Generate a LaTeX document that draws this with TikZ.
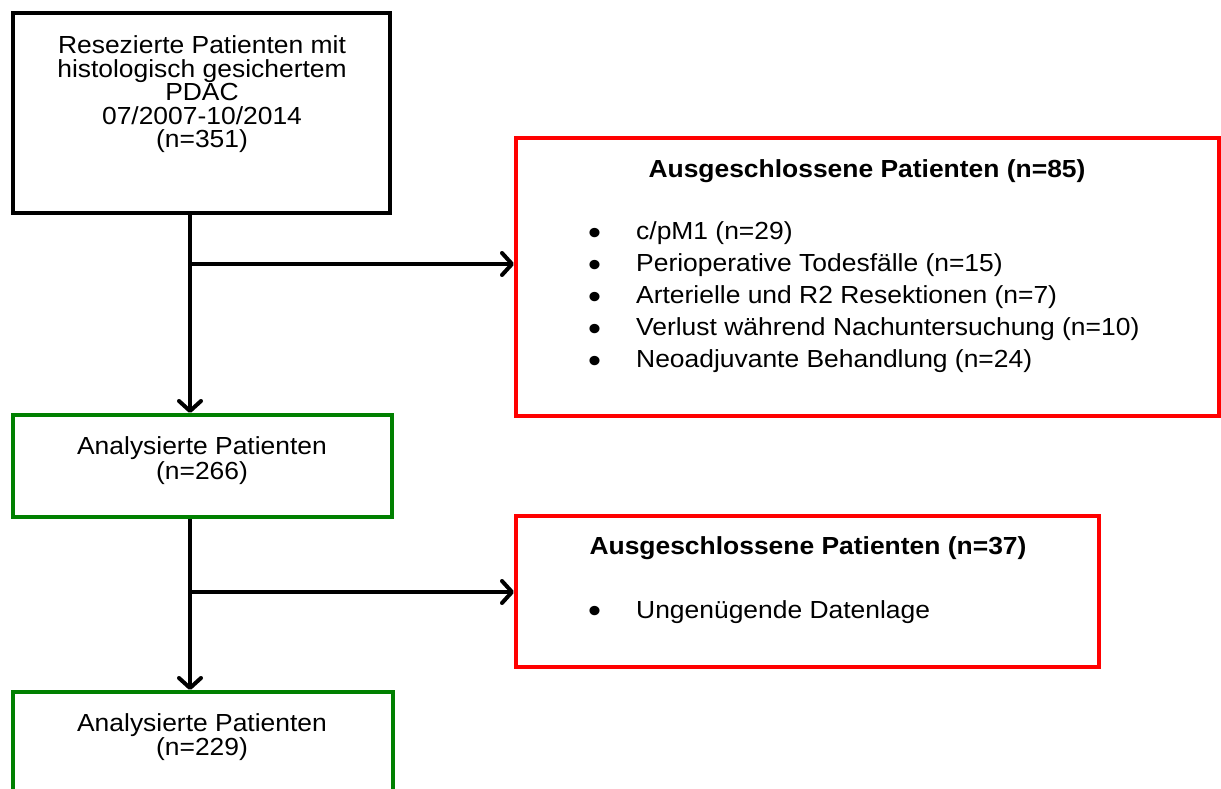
\documentclass[tikz,border=0pt]{standalone}
\usepackage{fontspec}
\setmainfont{Liberation Sans}[FakeStretch=1.07]
\usetikzlibrary{arrows.meta}
\definecolor{exred}{RGB}{255,0,0}
\definecolor{okgreen}{RGB}{0,128,0}
\newcommand\bul{\makebox[49pt][l]{\hspace{1pt}\raisebox{-4.3pt}{\scalebox{1.4}{•}}}}
\begin{document}
\begin{tikzpicture}[x=1pt,y=-1pt,
  box/.style={draw, line width=4pt, inner sep=0pt},
  txt/.style={font=\fontsize{24.7}{23.5}\selectfont, inner sep=0pt, align=center},
  itemtxt/.style={font=\fontsize{24.7}{32}\selectfont, inner sep=0pt, align=left},
  headtxt/.style={font=\fontsize{24.7}{30}\selectfont\bfseries, inner sep=0pt},
  arr/.style={line width=4pt, -{Straight Barb[length=10pt,width=22pt,line width=4pt,round]}},
 ]
\useasboundingbox (0,0) rectangle (1221,789);
% boxes
\node[box, minimum width=377pt, minimum height=200pt] (b1) at (201.5,113) {};
\node[box, draw=okgreen, minimum width=379pt, minimum height=102pt] (g1) at (202.5,466) {};
\node[box, draw=okgreen, minimum width=380pt, minimum height=110pt] (g2) at (203,747) {};
\node[box, draw=exred, minimum width=703pt, minimum height=278pt] (r1) at (867.5,277) {};
\node[box, draw=exred, minimum width=583pt, minimum height=151pt] (r2) at (807.5,591.5) {};
% texts
\node[txt] (t1) at (202,94.6) {Resezierte Patienten mit\\histologisch gesichertem\\PDAC\\07/2007-10/2014\\(n=351)};
\node[txt, font=\fontsize{24.7}{24.5}\selectfont] (tg1) at (202,460.4) {Analysierte Patienten\\(n=266)};
\node[txt, font=\fontsize{24.7}{24.5}\selectfont] (tg2) at (202,737) {Analysierte Patienten\\(n=229)};
\node[headtxt, anchor=base] (h1) at (867,177) {Ausgeschlossene Patienten (n=85)};
\node[itemtxt, anchor=west] (l1) at (587,297.6) {\bul c/pM1 (n=29)\\\bul Perioperative Todesfälle (n=15)\\\bul Arterielle und R2 Resektionen (n=7)\\\bul Verlust während Nachuntersuchung (n=10)\\\bul Neoadjuvante Behandlung (n=24)};
\node[headtxt, anchor=base] (h2) at (808,554) {Ausgeschlossene Patienten (n=37)};
\node[itemtxt, anchor=base west] (l2) at (587,618) {\bul Ungenügende Datenlage};
% connectors
\coordinate (j1) at (190,264);
\coordinate (j2) at (190,592);
\draw[arr] (b1.south -| j1) -- (g1.north -| j1);
\draw[arr] (j1) -- (r1.west |- j1);
\draw[arr] (g1.south -| j2) -- (g2.north -| j2);
\draw[arr] (j2) -- (r2.west |- j2);
\end{tikzpicture}
\end{document}
